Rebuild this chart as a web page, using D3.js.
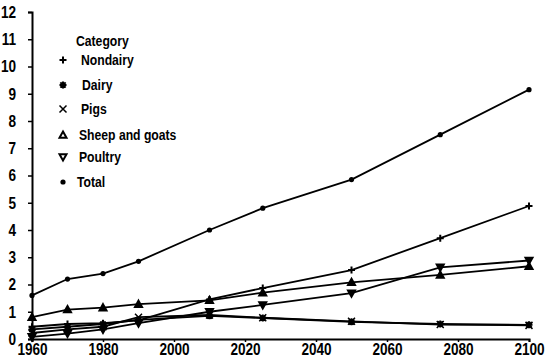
<!DOCTYPE html>
<html><head><meta charset="utf-8">
<script src="https://cdn.jsdelivr.net/npm/d3@7"></script>
<style>
html,body{margin:0;padding:0;background:#fff;}
svg text{font-family:"Liberation Sans",Arial,sans-serif;font-weight:bold;fill:#000;}
</style></head>
<body><svg id="c" width="550" height="360"></svg>
<script>
const years = [1960, 1970, 1980, 1990, 2010, 2025, 2050, 2075, 2100];
const nondairy = [0.45, 0.55, 0.58, 0.68, 1.45, 1.87, 2.53, 3.7, 4.88];
const dairy = [0.35, 0.45, 0.55, 0.7, 0.85, 0.77, 0.63, 0.55, 0.52];
const pigs = [0.22, 0.35, 0.45, 0.8, 0.88, 0.78, 0.65, 0.53, 0.5];
const sheepGoats = [0.8, 1.08, 1.15, 1.28, 1.42, 1.7, 2.08, 2.35, 2.67];
const poultry = [0.08, 0.2, 0.35, 0.58, 1.0, 1.25, 1.68, 2.63, 2.88];
const total = [1.6, 2.2, 2.4, 2.85, 4.0, 4.8, 5.85, 7.5, 9.15];
const seriesNames = ["Nondairy", "Dairy", "Pigs", "Sheep and goats", "Poultry", "Total"];
const legendTitle = "Category";
const xTicks = [1960, 1980, 2000, 2020, 2040, 2060, 2080, 2100];
const yTicks = [0,1,2,3,4,5,6,7,8,9,10,11,12];

const seriesValues = [nondairy, dairy, pigs, sheepGoats, poultry, total];
const shapes = ["plus","star","x","tri","tridown","dot"];

const svg = d3.select("#c");
const x = d3.scaleLinear().domain([1960, 2100]).range([32, 529]);
const y = d3.scaleLinear().domain([0, 12]).range([339, 12]);

function shapePath(t, s){
  if(t==="plus") return `M${-s},0H${s}M0,${-s}V${s}`;
  if(t==="star") return `M${-s},0H${s}M0,${-s}V${s}M${-s*0.75},${-s*0.75}L${s*0.75},${s*0.75}M${-s*0.75},${s*0.75}L${s*0.75},${-s*0.75}`;
  if(t==="x") return `M${-s},${-s}L${s},${s}M${-s},${s}L${s},${-s}`;
  if(t==="tri") return `M0,${-s}L${s},${s*0.8}L${-s},${s*0.8}Z`;
  if(t==="tridown") return `M${-s},${-s*0.8}L${s},${-s*0.8}L0,${s}Z`;
  return null;
}
function drawMarker(g, t, cx, cy, s, fillTri){
  if(t==="dot"){
    g.append("circle").attr("cx",cx).attr("cy",cy).attr("r",2.6).attr("fill","#000");
  } else {
    g.append("path").attr("transform",`translate(${cx},${cy})`).attr("d",shapePath(t,s))
      .attr("fill", (t==="tri"||t==="tridown") ? fillTri : "none")
      .attr("stroke","#000").attr("stroke-width", t==="x"?1.5:2);
  }
}

// lines
const line = d3.line().x((d,i)=>x(years[i])).y(d=>y(d));
seriesValues.forEach((vals)=>{
  svg.append("path").attr("d", line(vals)).attr("fill","none").attr("stroke","#000").attr("stroke-width",1.8);
});
seriesValues.forEach((vals, k)=>{
  const g = svg.append("g");
  vals.forEach((v,i)=> drawMarker(g, shapes[k], x(years[i]), y(v), 3.5, "#000"));
});

// axes
const xAxis = d3.axisBottom(x).tickValues(xTicks).tickFormat(d3.format("d")).tickSize(3).tickPadding(1);
const gx = svg.append("g").attr("transform","translate(0,339)").call(xAxis);
gx.select(".domain").attr("stroke","#000").attr("stroke-width",2);
gx.selectAll(".tick line").attr("stroke","#000").attr("stroke-width",1.5);
gx.selectAll("text").attr("font-size",17).attr("fill","#000").attr("transform","scale(0.8,1)");

const yAxis = d3.axisLeft(y).tickValues(yTicks).tickFormat(d3.format("d")).tickSize(4).tickPadding(0);
const gy = svg.append("g").attr("transform","translate(32,0)").call(yAxis);
gy.select(".domain").attr("stroke","#000").attr("stroke-width",2);
gy.selectAll(".tick line").attr("stroke","#000").attr("stroke-width",1.5);
gy.selectAll("text").attr("font-size",17).attr("fill","#000").attr("x",-16/0.8).attr("transform","scale(0.8,1)");

// legend
const leg = svg.append("g");
const sx = 0.87;
leg.append("text").attr("x",76/sx).attr("y",46).attr("font-size",14).attr("transform",`scale(${sx},1)`).text(legendTitle);
const legY = [60, 85, 109, 135, 157, 182];
const legX = [81, 82, 81, 79, 79, 77];
seriesNames.forEach((n,i)=>{
  drawMarker(leg, shapes[i], 63, legY[i], 3.5, "#fff");
  leg.append("text").attr("x",legX[i]/sx).attr("y",legY[i]+5).attr("font-size",14).attr("transform",`scale(${sx},1)`).text(n);
});
</script></body></html>
